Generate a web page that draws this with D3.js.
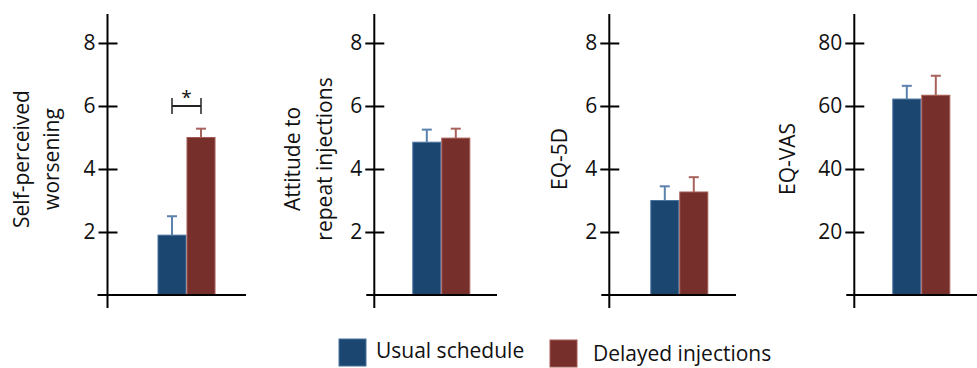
<!DOCTYPE html>
<html><head><meta charset="utf-8">
<script src="https://cdn.jsdelivr.net/npm/d3@7"></script>
<style>
html,body{margin:0;padding:0;background:#fff;}
svg{display:block;}
text{font-family:"Open Sans",sans-serif;fill:#111;}
</style></head>
<body>
<svg id="chart" width="977" height="368"></svg>
<script>
// ---- data ----
const panelNames = ["Self-perceived worsening", "Attitude to repeat injections", "EQ-5D", "EQ-VAS"];
const panelLabelLines = [["Self-perceived", "worsening"], ["Attitude to", "repeat injections"], ["EQ-5D"], ["EQ-VAS"]];
const seriesNames = ["Usual schedule", "Delayed injections"];
const usualMean = [1.9, 4.85, 3.0, 62.2];
const usualSE = [0.6, 0.4, 0.45, 4.2];
const delayedMean = [5.0, 4.98, 3.27, 63.4];
const delayedSE = [0.28, 0.3, 0.47, 6.2];
const yDomainMax = [8.92, 8.92, 8.92, 89.2];
const tickValues = [[2, 4, 6, 8], [2, 4, 6, 8], [2, 4, 6, 8], [20, 40, 60, 80]];
const significance = [{panel: 0, label: "*", level: 6}];

// ---- layout ----
const svg = d3.select("#chart");
const fills = ["#1a4670", "#762f2b"];
const edges = ["#4b72a0", "#a65a54"];
const errCols = ["#5a82ad", "#a8625c"];
const axisX = [107.5, 374.3, 609.3, 854.3];
const barOffset = [50, 38, 41, 38];
const baseRight = [246, 497, 736, 995];
const baseLeftPad = [10, 8, 8, 8];
const labelX = [[22, 52], [293, 325], [560], [788]];
const labelCY = 159;
const plotTop = 14, plotBottom = 295, axisBottom = 308;
const barW = 29;

panelNames.forEach((name, i) => {
  const g = svg.append("g");
  const y = d3.scaleLinear().domain([0, yDomainMax[i]]).range([plotBottom, plotTop]);
  const x = d3.scaleBand().domain(seriesNames)
    .range([axisX[i] + barOffset[i], axisX[i] + barOffset[i] + 2 * barW]).padding(0);
  const vals = [
    {s: seriesNames[0], m: usualMean[i], e: usualSE[i], k: 0},
    {s: seriesNames[1], m: delayedMean[i], e: delayedSE[i], k: 1}
  ];
  // bars
  g.selectAll("rect.bar").data(vals).join("rect")
    .attr("x", d => x(d.s) + 0.5)
    .attr("y", d => y(d.m))
    .attr("width", x.bandwidth() - 1)
    .attr("height", d => y(0) - y(d.m))
    .attr("fill", d => fills[d.k])
    .attr("stroke", d => edges[d.k])
    .attr("stroke-width", 1);
  // error bars
  g.selectAll("line.err").data(vals).join("line")
    .attr("x1", d => x(d.s) + x.bandwidth() / 2)
    .attr("x2", d => x(d.s) + x.bandwidth() / 2)
    .attr("y1", d => y(d.m))
    .attr("y2", d => y(d.m + d.e))
    .attr("stroke", d => errCols[d.k]).attr("stroke-width", 2);
  g.selectAll("line.cap").data(vals).join("line")
    .attr("x1", d => x(d.s) + x.bandwidth() / 2 - 5)
    .attr("x2", d => x(d.s) + x.bandwidth() / 2 + 5)
    .attr("y1", d => y(d.m + d.e))
    .attr("y2", d => y(d.m + d.e))
    .attr("stroke", d => errCols[d.k]).attr("stroke-width", 2);
  // axes
  g.append("line").attr("x1", axisX[i]).attr("x2", axisX[i]).attr("y1", plotTop).attr("y2", axisBottom)
    .attr("stroke", "#000").attr("stroke-width", 2);
  g.append("line").attr("x1", axisX[i] - baseLeftPad[i]).attr("x2", baseRight[i]).attr("y1", y(0)).attr("y2", y(0))
    .attr("stroke", "#000").attr("stroke-width", 2);
  const ax = d3.axisLeft(y).tickValues(tickValues[i]).tickSize(0).tickPadding(12).tickFormat(d3.format("d"));
  const axg = g.append("g").attr("transform", `translate(${axisX[i]},0)`).call(ax);
  axg.select(".domain").remove();
  axg.selectAll(".tick text").attr("font-size", 21).attr("fill", "#111")
    .attr("font-family", "'Open Sans',sans-serif");
  axg.selectAll(".tick").append("line").attr("x1", -9).attr("x2", 10).attr("y1", 0).attr("y2", 0)
    .attr("stroke", "#000").attr("stroke-width", 2);
  // y label
  panelLabelLines[i].forEach((ln, j) => {
    g.append("text")
      .attr("transform", `translate(${labelX[i][j]},${labelCY}) rotate(-90)`)
      .attr("text-anchor", "middle").attr("dy", "0.35em")
      .attr("font-size", 21).text(ln);
  });
  // significance
  significance.filter(s => s.panel === i).forEach(s => {
    const x1 = x(seriesNames[0]) + x.bandwidth() / 2, x2 = x(seriesNames[1]) + x.bandwidth() / 2;
    const yy = y(s.level);
    g.append("line").attr("x1", x1).attr("x2", x2).attr("y1", yy).attr("y2", yy).attr("stroke", "#222").attr("stroke-width", 2);
    [x1, x2].forEach(xx => g.append("line").attr("x1", xx).attr("x2", xx).attr("y1", yy - 8).attr("y2", yy + 8).attr("stroke", "#222").attr("stroke-width", 1.5));
    g.append("text").attr("x", (x1 + x2) / 2).attr("y", yy - 2).attr("text-anchor", "middle")
      .attr("font-size", 19).text(s.label);
  });
});

// legend
const legX = [339, 550], legTextX = [376, 593], legBase = [358, 361];
seriesNames.forEach((s, k) => {
  svg.append("rect").attr("x", legX[k]).attr("y", 339 + k).attr("width", 27).attr("height", 27)
    .attr("fill", fills[k]).attr("stroke", edges[k]).attr("stroke-width", 1);
  svg.append("text").attr("x", legTextX[k]).attr("y", legBase[k]).attr("font-size", 21).text(s);
});
</script>
</body></html>
